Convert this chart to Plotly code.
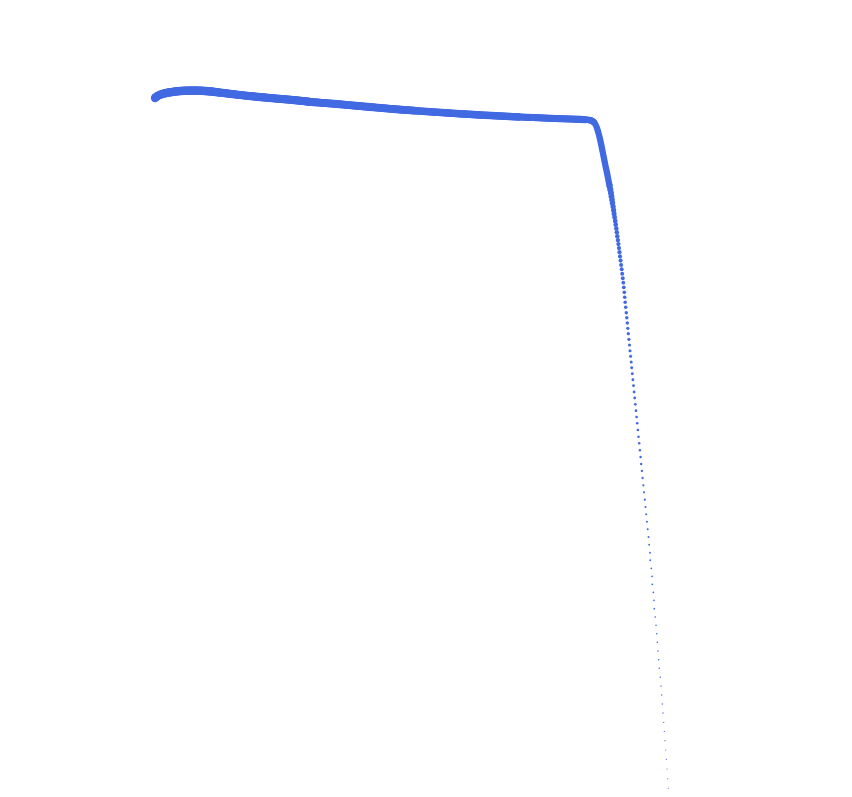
import plotly.graph_objects as go

# Continuous (thick) part of the trajectory
band_x = [155, 157, 160, 164, 168, 173, 178, 184, 190, 196, 202, 208, 214, 220, 230, 240,
          252, 265, 278, 290, 300, 310, 323, 337, 353, 370, 385, 400, 415, 430, 445, 460,
          480, 500, 520, 540, 555, 570, 580, 586, 589, 591, 593, 594.5, 596, 597.3, 598.6,
          600.0, 601.3, 602.5, 603.8, 605.2, 606.7, 608.2, 609.6]
band_y = [98, 96.3, 94.8, 93.5, 92.6, 91.8, 91.2, 90.8, 90.6, 90.6, 90.8, 91.2, 91.8, 92.6,
          93.8, 95, 96.3, 97.5, 98.7, 99.7, 100.7, 101.8, 102.9, 104, 105.5, 107,
          108.3, 109.6, 110.7, 111.8, 112.8, 113.8, 115, 116, 117, 117.8, 118.5, 119,
          119.4, 119.7, 120, 120.5, 121.5, 123, 125.5, 129, 133.5, 139, 145, 151, 157.5,
          164.5, 171.5, 179, 186]

# Separate dots of the falling part
dots_x = [610.3, 611.0, 611.5, 612.0, 612.5, 613.1, 613.6, 614.1, 614.6, 615.2, 615.7,
          616.3, 616.8, 617.3, 617.9, 618.4, 619.0, 619.5, 620.0, 620.6, 621.1,
          621.7, 622.2, 622.8,
          623.3, 623.8, 624.3, 624.7, 625.2, 625.7, 626.3, 626.8, 627.3, 627.8,
          628.3, 628.9, 629.5, 630.0, 630.6, 631.2, 631.7, 632.3, 632.9, 633.5,
          634.1, 634.7, 635.3, 636.0, 636.6, 637.2, 637.9, 638.5, 639.2, 639.9,
          640.6, 641.2, 641.9, 642.6, 643.4, 644.0, 644.8, 645.5, 646.2, 646.9,
          647.7, 648.5, 649.2,
          650.0, 650.3, 651.3, 652.0, 652.3, 653.3, 654.0, 654.3, 655.3, 656.0,
          656.7, 657.3, 658.0, 658.7, 659.3, 660.3, 661.0, 661.7, 662.3, 663.0,
          663.7, 664.3, 665.0, 665.7, 666.3, 667.0, 667.7, 668.3]
dots_y = [189.6, 193.0, 196.3, 199.7, 203.1, 206.6, 210.1, 213.7, 217.3, 221.0, 224.7,
          228.5, 232.3, 236.2, 240.1, 244.1, 248.1, 252.2, 256.4, 260.6, 264.9,
          269.3, 273.7, 278.2,
          282.7, 287.3, 292.3, 297.3, 302.3, 307.3, 312.7, 317.7, 323.0, 328.3,
          333.7, 339.3, 345.0, 350.7, 356.3, 362.0, 367.7, 373.7, 379.7, 385.7,
          392.0, 398.0, 404.3, 410.7, 417.0, 423.3, 430.0, 436.7, 443.3, 450.3,
          457.0, 464.0, 471.0, 478.0, 485.3, 492.3, 499.7, 507.0, 514.3, 521.7,
          529.3, 537.0, 544.7,
          552.7, 560.3, 568.3, 576.3, 584.3, 592.3, 600.3, 608.7, 617.0, 625.3,
          633.7, 642.3, 651.0, 659.7, 668.3, 677.3, 686.0, 695.0, 704.0, 713.0,
          722.3, 731.3, 740.7, 750.0, 759.3, 769.0, 778.7, 788.3]
dots_size = [6.2, 6.0, 5.8, 5.6, 5.45, 5.3, 5.15, 5.0, 4.9, 4.8, 4.7,
             4.6, 4.5, 4.45, 4.4, 4.3, 4.25, 4.2, 4.1, 4.05, 4.0,
             3.95, 3.9, 3.85,
             3.75, 3.7, 3.65, 3.6, 3.55, 3.5, 3.45, 3.4, 3.35, 3.3,
             3.25, 3.2, 3.15, 3.1, 3.05, 3.0, 2.96, 2.92, 2.88, 2.84,
             2.80, 2.76, 2.72, 2.68, 2.64, 2.60, 2.56, 2.52, 2.48, 2.44,
             2.40, 2.36, 2.32, 2.28, 2.24, 2.20, 2.16, 2.12, 2.08, 2.04,
             2.00, 1.96, 1.92,
             1.88, 1.85, 1.82, 1.79, 1.76, 1.73, 1.70, 1.67, 1.64, 1.61,
             1.58, 1.55, 1.52, 1.49, 1.46, 1.43, 1.40, 1.37, 1.34, 1.31,
             1.28, 1.25, 1.22, 1.19, 1.16, 1.13, 1.10, 1.07]

assert len(band_x) == len(band_y), (len(band_x), len(band_y))
assert len(dots_x) == len(dots_y) == len(dots_size), (len(dots_x), len(dots_y), len(dots_size))

COLOR = "royalblue"

fig = go.Figure()

n = len(band_x)
# whole band at the narrow width, then nested wider overlays so the band tapers gently
for i0, i1, w in [(0, n, 6.3), (0, 44, 6.7), (0, 40, 7.1), (0, 35, 7.5),
                  (0, 29, 7.8), (0, 22, 8.1), (0, 14, 8.4)]:
    fig.add_trace(go.Scatter(
        x=band_x[i0:i1], y=band_y[i0:i1], mode="lines",
        line=dict(color=COLOR, width=w, shape="spline", smoothing=1.0),
        hoverinfo="skip"))

# rounded start and end caps of the band
fig.add_trace(go.Scatter(x=[band_x[0], band_x[-1]], y=[band_y[0], band_y[-1]], mode="markers",
                         marker=dict(color=COLOR, size=[8.4, 6.3], opacity=1,
                                     line=dict(width=0)),
                         hoverinfo="skip"))

fig.add_trace(go.Scatter(x=dots_x, y=dots_y, mode="markers",
                         marker=dict(color=COLOR, size=dots_size, opacity=1,
                                     line=dict(width=0))))

fig.update_layout(
    width=852, height=797,
    margin=dict(l=0, r=0, t=0, b=0),
    paper_bgcolor="white", plot_bgcolor="white",
    showlegend=False,
    xaxis=dict(range=[0, 852], visible=False),
    yaxis=dict(range=[797, 0], visible=False),
)

fig.write_html("out.html")
